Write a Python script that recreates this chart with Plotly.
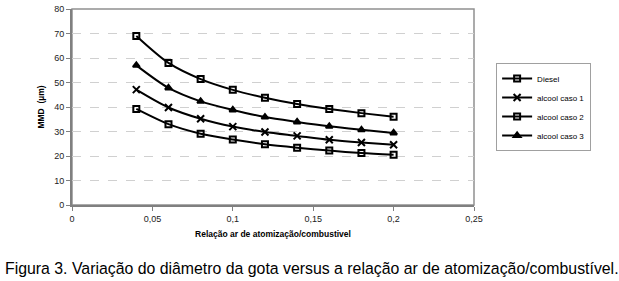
import plotly.graph_objects as go

x_vals = [0.04, 0.06, 0.08, 0.10, 0.12, 0.14, 0.16, 0.18, 0.20]
diesel = [69.0, 58.0, 51.4, 47.0, 43.8, 41.2, 39.2, 37.5, 36.0]
caso1 = [47.1, 39.8, 35.2, 32.0, 29.8, 28.2, 26.6, 25.5, 24.6]
caso2 = [39.2, 33.0, 29.1, 26.7, 24.8, 23.4, 22.2, 21.2, 20.5]
caso3 = [57.0, 47.8, 42.3, 38.8, 35.9, 33.9, 32.1, 30.7, 29.4]

series_names = ["Diesel", "alcool caso 1", "alcool caso 2", "alcool caso 3"]
symbols = ["square-open", "x-thin-open", "square-open", "triangle-up"]

x_tickvals = [0, 0.05, 0.1, 0.15, 0.2, 0.25]
x_ticktext = ["0", "0,05", "0,1", "0,15", "0,2", "0,25"]
y_tickvals = [0, 10, 20, 30, 40, 50, 60, 70, 80]

fig = go.Figure()
for name, ys, sym in zip(series_names, [diesel, caso1, caso2, caso3], symbols):
    fig.add_trace(go.Scatter(
        x=x_vals, y=ys, name=name, mode="lines+markers",
        line=dict(color="black", width=2, shape="spline", smoothing=0.8),
        marker=dict(symbol=sym, size=6 if sym != "x-thin-open" else 7,
                    color="black",
                    line=dict(color="black", width=2)),
    ))

fig.update_layout(
    width=619, height=281,
    margin=dict(l=72, r=145, t=4, b=76),
    paper_bgcolor="white", plot_bgcolor="white",
    font=dict(family="Arial, Liberation Sans, sans-serif", size=9, color="black"),
    showlegend=True,
    legend=dict(x=1.055, xanchor="left", xref="paper", y=0.5, yanchor="middle",
                bordercolor="#a0a0a0", borderwidth=1,
                font=dict(size=8), tracegroupgap=0, itemwidth=30),
    xaxis=dict(range=[0, 0.25], tickvals=x_tickvals, ticktext=x_ticktext,
               showgrid=False, zeroline=False,
               showline=True, linecolor="#808080", linewidth=2, mirror=False,
               ticks="outside", ticklen=4, tickcolor="#808080",
               tickfont=dict(size=9, color="#222"),
               title=dict(text="<b>Relação ar de atomização/combustivel</b>",
                          font=dict(size=8.5), standoff=8)),
    yaxis=dict(range=[0, 80], tickvals=y_tickvals,
               showgrid=True, gridcolor="#d0d0d0", griddash="dash", gridwidth=1,
               zeroline=False, ticklabeloverflow="allow",
               showline=True, linecolor="#808080", linewidth=2,
               ticks="outside", ticklen=4, tickcolor="#808080",
               tickfont=dict(size=9, color="#222"),
               title=dict(text="<b>MMD  (µm)</b>", font=dict(size=8.5), standoff=8)),
)

# plot border (top and right)
fig.add_shape(type="rect", xref="paper", yref="paper", x0=0, y0=0, x1=1, y1=1,
              line=dict(color="#909090", width=1.5), layer="below")

fig.add_annotation(
    text="Figura 3. Variação do diâmetro da gota versus a relação ar de atomização/combustível.",
    xref="paper", yref="paper", x=-0.1716, y=-0.323, xanchor="left", yanchor="middle",
    showarrow=False,
    font=dict(size=15.85, family="Liberation Sans Narrow, Arial Narrow, Arial, sans-serif", color="black"),
)

fig.write_html("out.html", config={"displayModeBar": False},
               post_script="document.body.style.margin='0';")
